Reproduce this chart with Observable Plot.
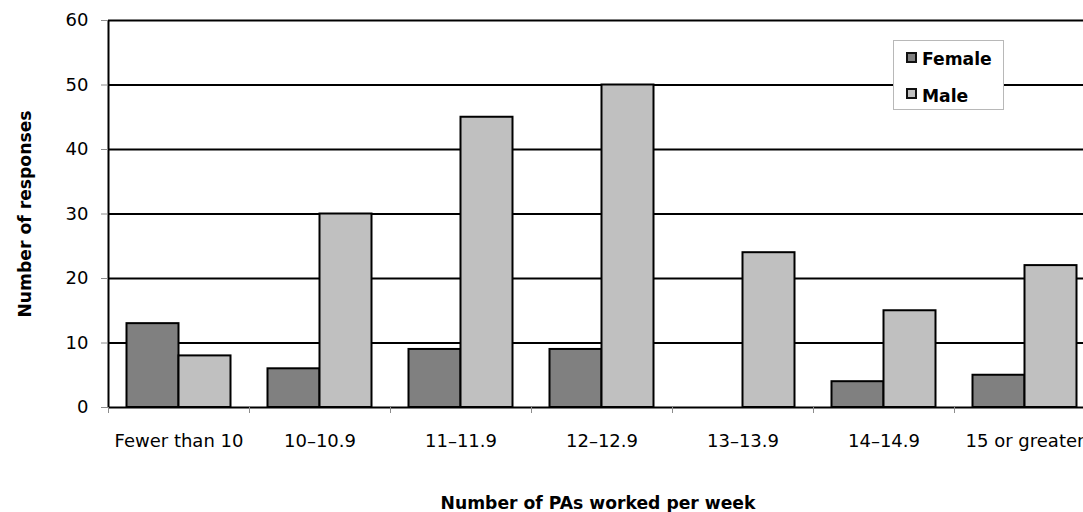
<!DOCTYPE html>
<html><head><meta charset="utf-8">
<script src="https://cdn.jsdelivr.net/npm/d3@7"></script>
<script src="https://cdn.jsdelivr.net/npm/@observablehq/plot@0.6"></script>
<style>
html,body{margin:0;padding:0;background:#fff;overflow:hidden;}
#wrap{position:relative;width:1083px;height:512px;overflow:hidden;}
#wrap svg{max-width:none !important;display:block;}
.legend{position:absolute;left:893px;top:40px;width:109px;height:68px;border:1px solid #b8b8b8;background:#fff;font-family:"DejaVu Sans",sans-serif;font-weight:bold;font-size:17.2px;color:#000;}
.sw{position:absolute;left:12px;width:7px;height:7px;border:2px solid #111;}
.lab{position:absolute;left:28px;line-height:20px;white-space:nowrap;}
</style></head><body><div id="wrap"></div>
<script>
const categories = ["Fewer than 10", "10–10.9", "11–11.9", "12–12.9", "13–13.9", "14–14.9", "15 or greater"];
const female = [13, 6, 9, 9, 0, 4, 5];
const male = [8, 30, 45, 50, 24, 15, 22];
const seriesNames = ["Female", "Male"];
const seriesColors = ["#808080", "#c0c0c0"];
const yTicks = [0, 10, 20, 30, 40, 50, 60];
const xTitle = "Number of PAs worked per week";
const yTitle = "Number of responses";

const W = 1095, H = 512, ML = 108, MT = 20, MB = 105;
const bw = (W - ML) / categories.length;
const pad = 18.5, half = bw / 2;
const rows = categories.map((c, i) => ({cat: c, female: female[i], male: male[i]}));

const plot = Plot.plot({
  width: W, height: H,
  marginLeft: ML, marginRight: 0, marginTop: MT, marginBottom: MB,
  style: {fontFamily: "DejaVu Sans, sans-serif", fontSize: "18px", color: "black", background: "white", overflow: "hidden"},
  x: {domain: categories, padding: 0, axis: null},
  y: {domain: [0, 60], axis: null},
  marks: [
    Plot.ruleY(yTicks, {stroke: "black", strokeWidth: 2}),
    Plot.barY(rows, {x: "cat", y: "female", fill: seriesColors[0], stroke: "black", strokeWidth: 2, insetLeft: pad, insetRight: half}),
    Plot.barY(rows, {x: "cat", y: "male", fill: seriesColors[1], stroke: "black", strokeWidth: 2, insetLeft: half, insetRight: pad}),
    Plot.ruleX([categories[0]], {dx: -half, stroke: "black", strokeWidth: 2}),
    Plot.axisY({ticks: yTicks, tickSize: 7, tickPadding: 13, stroke: "#8c8c8c", fill: "black", fontSize: 18, label: null}),
    Plot.axisX({tickSize: 6, dx: -half, tickFormat: () => "", stroke: "#8c8c8c", label: null}),
    Plot.axisX({tickSize: 0, tickPadding: 27, fontSize: 18, fill: "black", label: null}),
    Plot.text([yTitle], {frameAnchor: "left", textAnchor: "middle", rotate: -90, dx: -83, fontWeight: "bold", fontSize: 17.2, fill: "black"}),
    Plot.text([xTitle], {frameAnchor: "bottom", textAnchor: "middle", lineAnchor: "bottom", dy: 101, dx: -4, fontWeight: "bold", fontSize: 17.2, fill: "black"})
  ]
});
const wrap = document.getElementById("wrap");
wrap.appendChild(plot);

const legend = document.createElement("div");
legend.className = "legend";
const swTops = [11, 47], labTops = [8, 45];
seriesNames.forEach((name, i) => {
  const sw = document.createElement("div");
  sw.className = "sw";
  sw.style.top = swTops[i] + "px";
  sw.style.background = seriesColors[i];
  const lab = document.createElement("div");
  lab.className = "lab";
  lab.style.top = labTops[i] + "px";
  lab.textContent = name;
  legend.appendChild(sw);
  legend.appendChild(lab);
});
wrap.appendChild(legend);
</script>
</body></html>
